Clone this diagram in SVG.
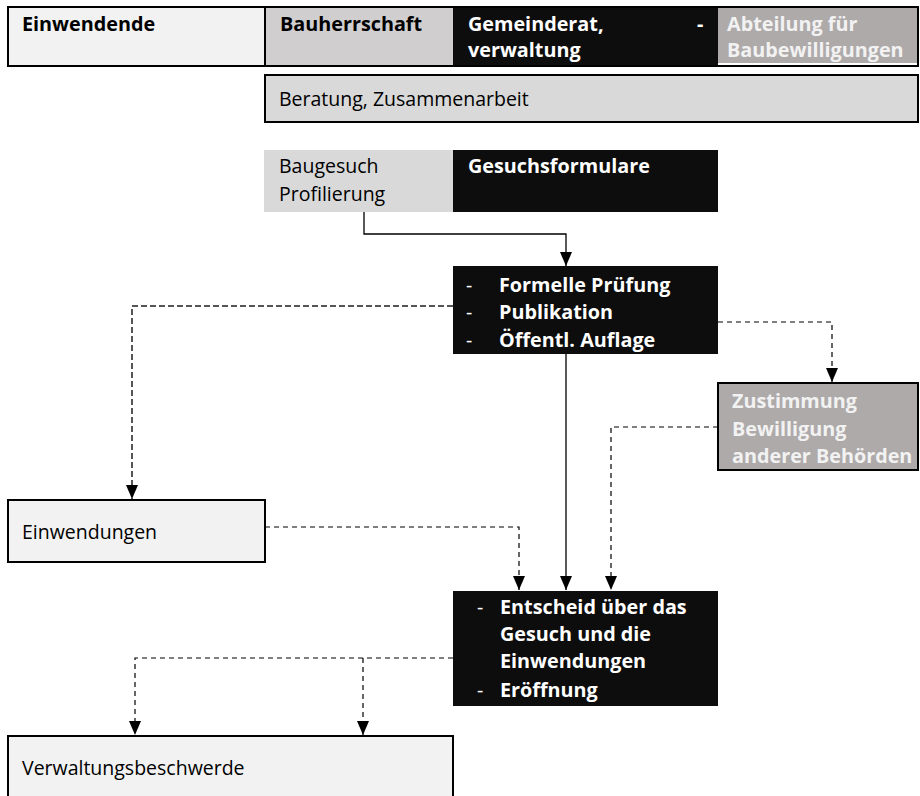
<svg xmlns="http://www.w3.org/2000/svg" width="920" height="796" viewBox="0 0 920 796">
<defs>
<style>
.t{font-family:"Open Sans","Noto Sans","DejaVu Sans",sans-serif;font-size:19.5px;fill:#000}
.b{font-weight:bold;font-size:19.8px}
.w{fill:#fff}
.lw{fill:#f2f2f2}
.box{stroke:#000;stroke-width:2}
.c{fill:none;stroke:#000;stroke-width:1.3}
.d{fill:none;stroke:#000;stroke-width:1.2;stroke-dasharray:5 4}
.dg{fill:none;stroke:#555;stroke-width:2;stroke-dasharray:6 3}
</style>
<marker id="ahl" viewBox="0 0 14 12" refX="14" refY="6" markerWidth="14" markerHeight="12" markerUnits="userSpaceOnUse" orient="auto">
<path d="M0,0 L14,6 L0,12 z" fill="#000"/>
</marker>
</defs>
<rect width="920" height="796" fill="#fff"/>

<g id="header">
<rect x="8" y="7" width="257" height="59" fill="#f2f2f2"/>
<rect x="265" y="7" width="188" height="59" fill="#d0cecf"/>
<rect x="453" y="7" width="265" height="59" fill="#0d0d0d"/>
<rect x="718" y="7" width="200" height="56" fill="#aeaaaa"/>
<rect x="8" y="7" width="910" height="59" fill="none" class="box"/>
<line x1="265" y1="7" x2="265" y2="66" stroke="#000" stroke-width="2"/>
<text class="t b" x="22" y="31">Einwendende</text>
<text class="t b" x="280" y="31">Bauherrschaft</text>
<text class="t b w" x="468" y="31">Gemeinderat,</text>
<text class="t b w" x="468" y="57">verwaltung</text>
<text class="t b w" x="697" y="31">-</text>
<text class="t b lw" x="727" y="31">Abteilung für</text>
<text class="t b lw" x="727" y="57">Baubewilligungen</text>
</g>

<g id="beratung">
<rect x="265" y="75" width="653" height="47" fill="#d9d9d9" class="box"/>
<text class="t" x="279" y="106">Beratung, Zusammenarbeit</text>
</g>

<g id="baugesuch">
<rect x="264" y="150" width="189" height="62" fill="#d9d9d9"/>
<rect x="453" y="150" width="265" height="62" fill="#0d0d0d"/>
<text class="t" x="279" y="173">Baugesuch</text>
<text class="t" x="279" y="201">Profilierung</text>
<text class="t b w" x="468" y="173">Gesuchsformulare</text>
</g>

<g id="pruefung">
<rect x="453" y="266" width="265" height="88" fill="#0d0d0d"/>
<text class="t w" x="466" y="292">-</text>
<text class="t b w" x="499" y="292">Formelle Prüfung</text>
<text class="t w" x="466" y="319">-</text>
<text class="t b w" x="499" y="319">Publikation</text>
<text class="t w" x="466" y="347">-</text>
<text class="t b w" x="499" y="347">Öffentl. Auflage</text>
</g>

<g id="zustimmung">
<rect x="718" y="383" width="200" height="87" fill="#aeaaaa" class="box"/>
<text class="t b lw" x="732" y="408">Zustimmung</text>
<text class="t b lw" x="732" y="436">Bewilligung</text>
<text class="t b lw" x="732" y="463">anderer Behörden</text>
</g>

<g id="einwendungen">
<rect x="8" y="500" width="257" height="62" fill="#f2f2f2" class="box"/>
<text class="t" x="22" y="539">Einwendungen</text>
</g>

<g id="entscheid">
<rect x="453" y="591" width="265" height="115" fill="#0d0d0d"/>
<text class="t w" x="477" y="614">-</text>
<text class="t b w" x="500" y="614">Entscheid über das</text>
<text class="t b w" x="500" y="641">Gesuch und die</text>
<text class="t b w" x="500" y="668">Einwendungen</text>
<text class="t w" x="477" y="697">-</text>
<text class="t b w" x="500" y="697">Eröffnung</text>
</g>

<g id="beschwerde">
<rect x="8" y="736" width="445" height="70" fill="#f2f2f2" class="box"/>
<text class="t" x="22" y="775">Verwaltungsbeschwerde</text>
</g>

<g id="connectors">
<path class="c" d="M364,212 V234 H566 V266" marker-end="url(#ahl)"/>
<path class="dg" d="M453,306 H132 V499" marker-end="url(#ahl)"/>
<path class="d" d="M718,322 H832 V382" marker-end="url(#ahl)"/>
<path class="d" d="M718,427 H611 V590" marker-end="url(#ahl)"/>
<path class="c" d="M566,354 V590" marker-end="url(#ahl)"/>
<path class="d" d="M265,527 H519 V590" marker-end="url(#ahl)"/>
<path class="d" d="M453,658 H135 V735" marker-end="url(#ahl)"/>
<path class="d" d="M363,658 V735" marker-end="url(#ahl)"/>
</g>
</svg>
